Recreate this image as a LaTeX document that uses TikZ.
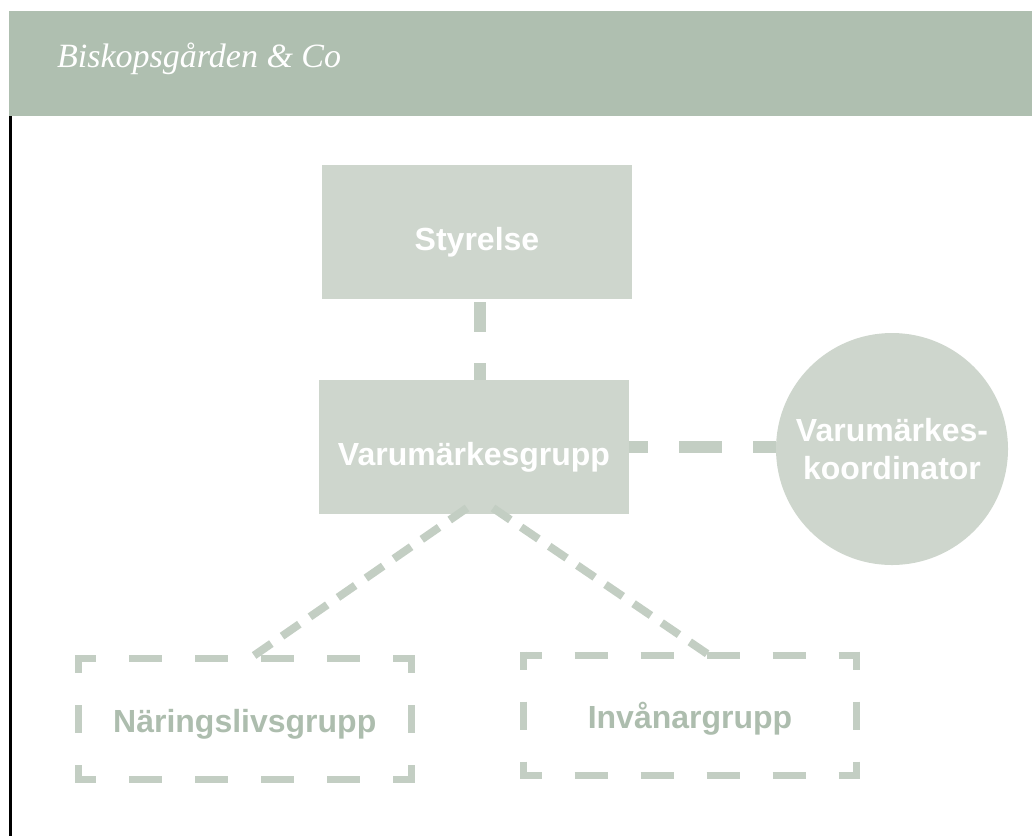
\documentclass[tikz,border=0pt]{standalone}
\usepackage{fontspec}
\setmainfont{Liberation Serif}
\setsansfont{Liberation Sans}
\usepackage{tikz}

\definecolor{headgreen}{HTML}{AFBFB0}
\definecolor{boxgreen}{HTML}{CED6CD}
\definecolor{linegreen}{HTML}{C3CEC3}
\definecolor{labelgreen}{HTML}{ADBDAE}

\tikzset{
  orgfont/.style={font=\sffamily\bfseries\fontsize{32}{38}\selectfont},
  orgbox/.style={orgfont,fill=boxgreen,text=white,minimum width=310pt,minimum height=134pt,
                 inner sep=0pt,outer sep=0pt,text height=36pt,text depth=0pt},
  orgcircle/.style={orgfont,circle,fill=boxgreen,text=white,minimum size=232pt,inner sep=0pt,
                    outer sep=0pt,align=center},
  openbox/.style={orgfont,text=labelgreen,minimum width=333pt,minimum height=121pt,
                  inner sep=0pt,outer sep=0pt,text height=26pt,text depth=0pt},
  link/.style={linegreen,line width=12pt},
  slantlink/.style={linegreen,line width=8pt,dash pattern=on 21pt off 13pt},
  hedge/.style={linegreen,line width=7pt,dash pattern=on 33pt off 33pt,dash phase=11.5pt,
                shorten <=-3.5pt,shorten >=-3.5pt},
  vedge/.style={linegreen,line width=7pt,dash pattern=on 28pt off 32pt,dash phase=10pt,
                shorten <=-3.5pt,shorten >=-3.5pt}
}

\begin{document}
\begin{tikzpicture}[x=1pt,y=-1pt]
        \useasboundingbox (0,0) rectangle (1032,836);
        \fill[headgreen] (9,11) rectangle (1032,116);
        \draw[line width=2.5pt] (10.25,116) -- (10.25,836);
        \node (title) at (57,67) [anchor=base west,inner sep=0pt,text=white,
              font=\itshape\fontsize{34}{40}\selectfont] {Biskopsgården \& Co};

        \node (styrelse) at (477,232) [orgbox] {Styrelse};
        \node (vgrp)     at (474,447) [orgbox] {Varumärkesgrupp};
        \node (koord)    at (892,449) [orgcircle] {Varumärkes-\\koordinator};
        \node (naring)   at (244.75,719) [openbox] {Näringslivsgrupp};
        \node (invanar)  at (690,715.25) [openbox,minimum height=120.5pt] {Invånargrupp};

        \foreach \n in {naring,invanar}{
            \draw[hedge] (\n.north west) -- (\n.north east);
            \draw[hedge] (\n.south west) -- (\n.south east);
            \draw[vedge] (\n.north west) -- (\n.south west);
            \draw[vedge] (\n.north east) -- (\n.south east);
        }

        \coordinate (styrB) at ([xshift=3pt]styrelse.south);
        \coordinate (vgrpL) at ([xshift=-7pt,yshift=6pt]vgrp.south);
        \coordinate (vgrpR) at ([xshift=19pt,yshift=6pt]vgrp.south);
        \coordinate (naringT) at ([xshift=5pt]naring.north);
        \coordinate (invanarT) at ([xshift=19pt]invanar.north);

        \draw[link,dash pattern=on 30pt off 31pt,dash phase=58pt] (styrB) -- (styrB |- vgrp.north);
        \draw[link,dash pattern=on 43pt off 31pt,dash phase=24pt] (vgrp.east) -- (vgrp.east -| koord.west);
        \draw[slantlink] (vgrpL) -- (naringT);
        \draw[slantlink] (vgrpR) -- (invanarT);
\end{tikzpicture}
\end{document}
